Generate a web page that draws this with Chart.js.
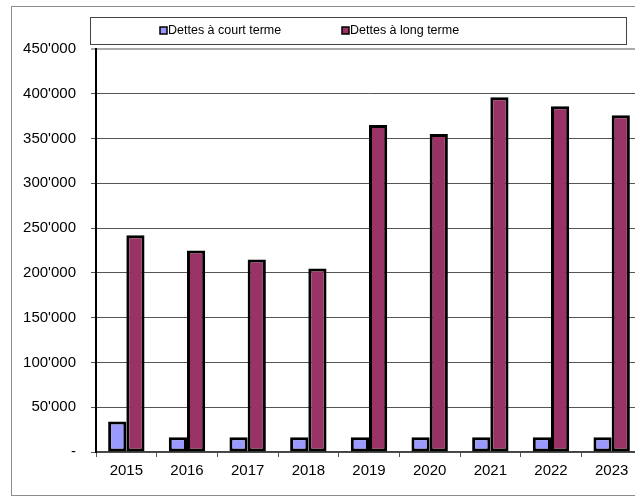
<!DOCTYPE html>
<html>
<head>
<meta charset="utf-8">
<script src="https://cdn.jsdelivr.net/npm/chart.js@4/dist/chart.umd.min.js"></script>
<style>
  html, body { margin: 0; padding: 0; background: #fff; overflow: hidden; width: 635px; height: 496px; }
  #frame { position: absolute; left: 11px; top: 6px; width: 700px; height: 488px; border: 1px solid #8c8c8c; }
  #wrap { position: absolute; left: 0; top: 0; width: 660px; height: 496px; }
</style>
</head>
<body>
<div id="frame"></div>
<div id="wrap"><canvas id="chart"></canvas></div>
<script>
const years = ['2015', '2016', '2017', '2018', '2019', '2020', '2021', '2022', '2023'];
const courtTerme = [34000, 16500, 16500, 16500, 16500, 16500, 16500, 16500, 16500];
const longTerme = [242000, 225000, 215000, 205000, 365000, 355000, 396000, 386000, 376000];
const seriesNames = ['Dettes à court terme', 'Dettes à long terme'];

const FONT = '"Liberation Sans", Arial, sans-serif';

// legend in a box, like the Excel one
const boxLegend = {
  id: 'boxLegend',
  afterDraw(chart) {
    const c = chart.ctx;
    c.save();
    c.strokeStyle = '#444';
    c.lineWidth = 1;
    c.strokeRect(90.5, 17.5, 536, 27);
    const xs = [160, 342];
    c.font = '12.5px ' + FONT;
    c.textBaseline = 'middle';
    chart.data.datasets.forEach((ds, i) => {
      c.fillStyle = ds.backgroundColor;
      c.fillRect(xs[i], 27, 7, 7);
      c.strokeStyle = '#000';
      c.lineWidth = 1.5;
      c.strokeRect(xs[i], 27, 7, 7);
      c.fillStyle = '#000';
      c.fillText(ds.label, xs[i] + 8, 31);
    });
    c.restore();
  }
};

new Chart(document.getElementById('chart'), {
  type: 'bar',
  data: {
    labels: years,
    datasets: [{
      label: seriesNames[0],
      data: courtTerme,
      backgroundColor: '#9999ff',
      borderColor: '#000',
      borderWidth: 3,
      borderSkipped: false,
      categoryPercentage: 0.6,
      barPercentage: 1.0
    }, {
      label: seriesNames[1],
      data: longTerme,
      backgroundColor: '#993366',
      borderColor: '#000',
      borderWidth: 3,
      borderSkipped: false,
      categoryPercentage: 0.6,
      barPercentage: 1.0
    }]
  },
  options: {
    responsive: true,
    maintainAspectRatio: false,
    animation: false,
    layout: { padding: { left: 0, top: 49, right: 18, bottom: 0 } },
    plugins: {
      legend: { display: false },
      tooltip: { enabled: false }
    },
    scales: {
      x: {
        grid: { drawOnChartArea: false, drawTicks: true, tickLength: 5, color: '#555' },
        border: { color: '#444', width: 1.5 },
        ticks: { color: '#000', font: { family: FONT, size: 15 }, padding: 5, maxRotation: 0 },
        afterFit: (s) => { s.height = 44; }
      },
      y: {
        min: 0,
        max: 450000,
        grid: {
          color: (ctx) => ctx.tick && ctx.tick.value === 450000 ? '#aaa' : '#555',
          lineWidth: (ctx) => ctx.tick && ctx.tick.value === 450000 ? 2 : 1,
          tickLength: 5
        },
        border: { color: '#000', width: 2 },
        ticks: {
          stepSize: 50000,
          color: '#000',
          font: { family: FONT, size: 15 },
          padding: 15,
          callback: (v) => v === 0 ? '-' : String(v).replace(/\B(?=(\d{3})+(?!\d))/g, "'")
        },
        afterFit: (s) => { s.width = 96; }
      }
    }
  },
  plugins: [boxLegend]
});
</script>
</body>
</html>
